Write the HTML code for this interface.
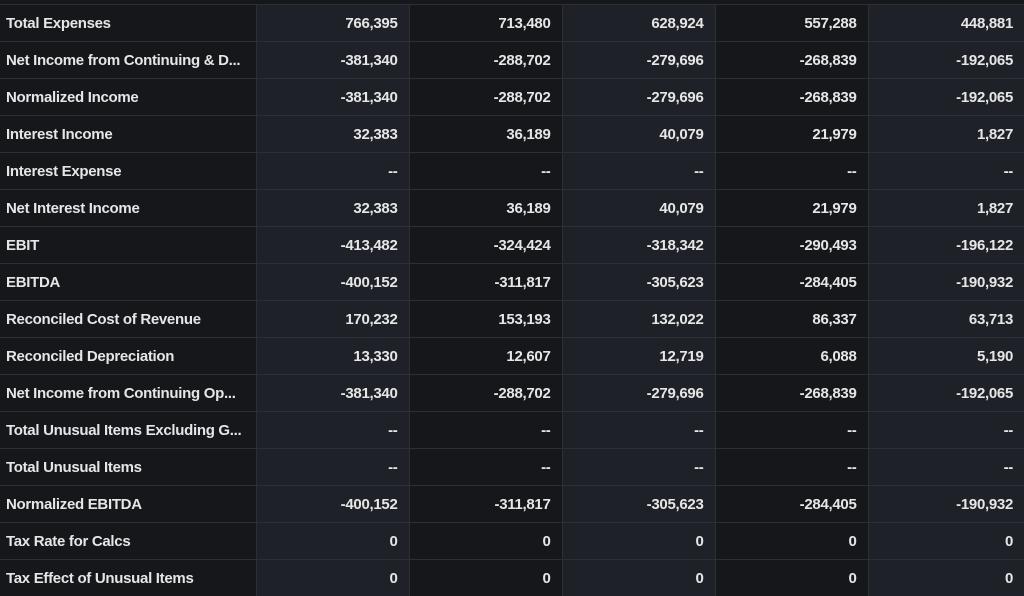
<!DOCTYPE html>
<html><head><style>
body{margin:0;width:1024px;height:596px;background:#15171b;overflow:hidden;font-family:"Liberation Sans",sans-serif;}
table{position:absolute;top:4px;left:0;border-collapse:collapse;width:1024px;table-layout:fixed;}
td{height:36px;border-top:1px solid #2c3036;border-left:1px solid #2c3036;padding:0 11px 0 6px;font-size:15px;font-weight:bold;color:#e6e6e6;text-align:right;white-space:nowrap;overflow:hidden;letter-spacing:-0.3px}
td:first-child{text-align:left;border-left:none;background:#15171b}
td.l{background:#1e2128}
td.d{background:#15171b}
</style></head><body>
<table>
<colgroup><col style="width:256px"><col style="width:153px"><col style="width:153px"><col style="width:153px"><col style="width:153px"><col style="width:156px"></colgroup>
<tr><td>Total Expenses</td><td class="l">766,395</td><td class="d">713,480</td><td class="l">628,924</td><td class="d">557,288</td><td class="l">448,881</td></tr>
<tr><td>Net Income from Continuing &amp; D...</td><td class="l">-381,340</td><td class="d">-288,702</td><td class="l">-279,696</td><td class="d">-268,839</td><td class="l">-192,065</td></tr>
<tr><td>Normalized Income</td><td class="l">-381,340</td><td class="d">-288,702</td><td class="l">-279,696</td><td class="d">-268,839</td><td class="l">-192,065</td></tr>
<tr><td>Interest Income</td><td class="l">32,383</td><td class="d">36,189</td><td class="l">40,079</td><td class="d">21,979</td><td class="l">1,827</td></tr>
<tr><td>Interest Expense</td><td class="l">--</td><td class="d">--</td><td class="l">--</td><td class="d">--</td><td class="l">--</td></tr>
<tr><td>Net Interest Income</td><td class="l">32,383</td><td class="d">36,189</td><td class="l">40,079</td><td class="d">21,979</td><td class="l">1,827</td></tr>
<tr><td>EBIT</td><td class="l">-413,482</td><td class="d">-324,424</td><td class="l">-318,342</td><td class="d">-290,493</td><td class="l">-196,122</td></tr>
<tr><td>EBITDA</td><td class="l">-400,152</td><td class="d">-311,817</td><td class="l">-305,623</td><td class="d">-284,405</td><td class="l">-190,932</td></tr>
<tr><td>Reconciled Cost of Revenue</td><td class="l">170,232</td><td class="d">153,193</td><td class="l">132,022</td><td class="d">86,337</td><td class="l">63,713</td></tr>
<tr><td>Reconciled Depreciation</td><td class="l">13,330</td><td class="d">12,607</td><td class="l">12,719</td><td class="d">6,088</td><td class="l">5,190</td></tr>
<tr><td>Net Income from Continuing Op...</td><td class="l">-381,340</td><td class="d">-288,702</td><td class="l">-279,696</td><td class="d">-268,839</td><td class="l">-192,065</td></tr>
<tr><td>Total Unusual Items Excluding G...</td><td class="l">--</td><td class="d">--</td><td class="l">--</td><td class="d">--</td><td class="l">--</td></tr>
<tr><td>Total Unusual Items</td><td class="l">--</td><td class="d">--</td><td class="l">--</td><td class="d">--</td><td class="l">--</td></tr>
<tr><td>Normalized EBITDA</td><td class="l">-400,152</td><td class="d">-311,817</td><td class="l">-305,623</td><td class="d">-284,405</td><td class="l">-190,932</td></tr>
<tr><td>Tax Rate for Calcs</td><td class="l">0</td><td class="d">0</td><td class="l">0</td><td class="d">0</td><td class="l">0</td></tr>
<tr><td>Tax Effect of Unusual Items</td><td class="l">0</td><td class="d">0</td><td class="l">0</td><td class="d">0</td><td class="l">0</td></tr>
</table>
</body></html>
